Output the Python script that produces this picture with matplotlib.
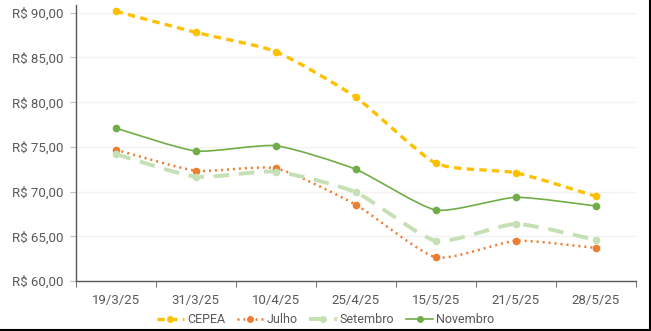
import matplotlib
matplotlib.use('Agg')
import matplotlib.pyplot as plt
import numpy as np
from matplotlib.path import Path
from matplotlib.patches import PathPatch
from matplotlib.lines import Line2D
from matplotlib import ticker

plt.rcParams['font.family'] = ['Roboto', 'DejaVu Sans']

dates = ['19/3/25', '31/3/25', '10/4/25', '25/4/25', '15/5/25', '21/5/25', '28/5/25']
cepea = [90.17, 87.80, 85.65, 80.55, 73.17, 72.10, 69.47]
julho = [74.69, 72.34, 72.60, 68.53, 62.65, 64.50, 63.69]
setembro = [74.20, 71.67, 72.23, 69.92, 64.50, 66.38, 64.59]
novembro = [77.10, 74.54, 75.13, 72.49, 67.94, 69.36, 68.39]

series = [
    ('CEPEA', cepea, '#FFC000', (0, (2.2, 1.6)), 2.4),
    ('Julho', julho, '#ED7D31', (0, (0.8, 1.6)), 1.8),
    ('Setembro', setembro, '#C5E0B4', (0, (4.0, 2.5)), 2.8),
    ('Novembro', novembro, '#70AD47', '-', 1.2),
]


def smooth_path(xs, ys, k=10.0):
    # light bezier smoothing, like excel's "smoothed line"
    pts = np.column_stack([xs, ys]).astype(float)
    verts = [pts[0]]
    codes = [Path.MOVETO]
    n = len(pts)
    for i in range(n - 1):
        p0 = pts[i - 1] if i > 0 else pts[i]
        p1 = pts[i]
        p2 = pts[i + 1]
        p3 = pts[i + 2] if i + 2 < n else pts[i + 1]
        c1 = p1 + (p2 - p0) / k
        c2 = p2 - (p3 - p1) / k
        verts += [c1, c2, p2]
        codes += [Path.CURVE4] * 3
    return Path(verts, codes)


fig = plt.figure(figsize=(6.51, 3.31), dpi=100)
ax = fig.add_axes([0.1163, 0.151, 0.8607, 0.834])

x = np.arange(len(dates))
handles = []
for name, vals, color, ls, lw in series:
    patch = PathPatch(smooth_path(x, vals), fill=False, edgecolor=color,
                      linestyle=ls, linewidth=lw, capstyle='butt', zorder=3)
    ax.add_patch(patch)
    ax.plot(x, vals, linestyle='none', marker='o', markersize=4.5,
            color=color, zorder=4)
    handles.append(Line2D([], [], color=color, linestyle=ls, linewidth=lw,
                          marker='o', markersize=4))

ax.set_xlim(-0.5, len(dates) - 0.5)
ax.set_ylim(60, 90.87)
ax.set_yticks(np.arange(60, 91, 5))
ax.yaxis.set_major_formatter(ticker.FuncFormatter(
    lambda v, p: 'R$ ' + f'{v:.2f}'.replace('.', ',')))
ax.set_xticks(x)
ax.set_xticklabels(dates)
ax.set_xticks(np.arange(-0.5, len(dates), 1), minor=True)

ax.grid(axis='y', color='#F2F2F2', linewidth=1)
ax.set_axisbelow(True)
for s in ['top', 'right']:
    ax.spines[s].set_visible(False)
for s in ['left', 'bottom']:
    ax.spines[s].set_color('#595959')
    ax.spines[s].set_linewidth(1)

ax.tick_params(axis='x', which='major', length=0, pad=9, labelsize=9.5,
               labelcolor='#595959')
ax.tick_params(axis='x', which='minor', length=4, color='#595959')
ax.tick_params(axis='y', length=4, color='#BFBFBF', pad=5, labelsize=9.5,
               labelcolor='#595959')

leg = fig.legend(handles, [s[0] for s in series], loc='center',
                 bbox_to_anchor=(0.5, 0.035), ncol=4, frameon=False,
                 fontsize=9, handlelength=2.2, columnspacing=0.9,
                 handletextpad=0.25)
for t in leg.get_texts():
    t.set_color('#595959')

# screenshot border at right and bottom
fig.add_artist(Line2D([0.998, 0.998], [0, 1], color='black', linewidth=1.5,
                      transform=fig.transFigure))
fig.add_artist(Line2D([0, 1], [0.002, 0.002], color='black', linewidth=1.5,
                      transform=fig.transFigure))

fig.savefig('out.png', dpi=100)
